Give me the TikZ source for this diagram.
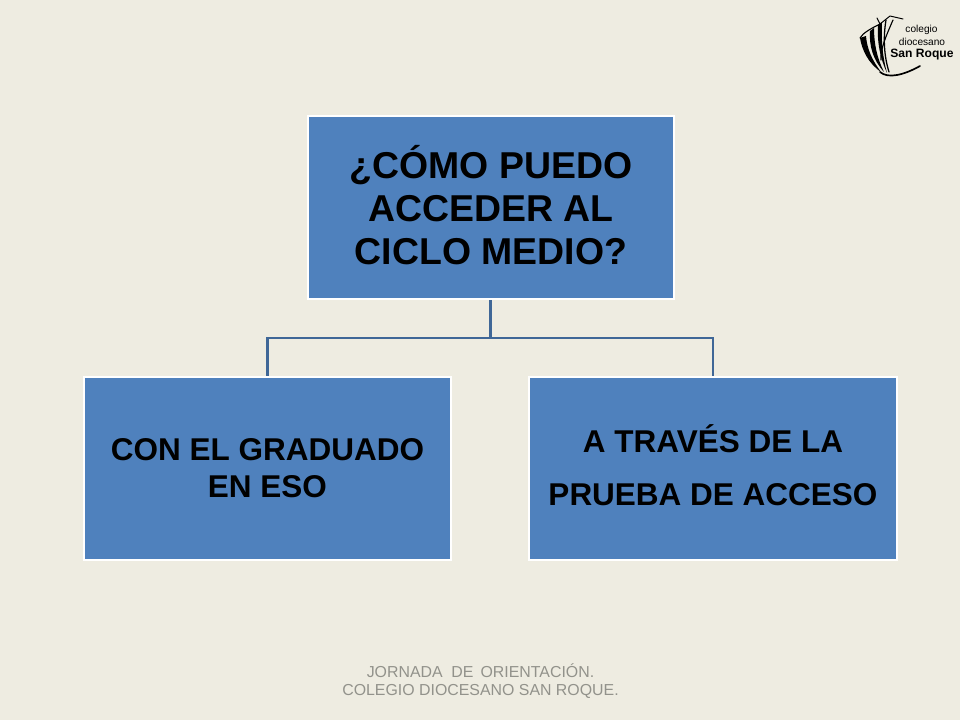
\documentclass[tikz,border=0pt]{standalone}
\usepackage{fontspec}
\setmainfont{Liberation Sans}
\usepackage{tikz}
\usetikzlibrary{positioning}
\definecolor{slidebg}{HTML}{EEECE1}
\definecolor{boxblue}{HTML}{4F81BD}
\definecolor{linkblue}{HTML}{3F6797}
\definecolor{footgray}{HTML}{92928B}
\tikzset{
  qbox/.style={ draw=white, line width=2.1pt, fill=boxblue, inner sep=0pt, minimum height=183*0.025cm }
}
\tikzset{
  qtext/.style={ align=center, inner sep=0pt }
}
\tikzset{
  link/.style={ draw=linkblue, line width=2.1pt }
}
\tikzset{
  shell/.style={ draw=black, line cap=round, line join=round }
}
\begin{document}
\begin{tikzpicture}[y=-0.025cm, x=0.025cm]
      \useasboundingbox (0, 0) rectangle (960, 720);
      \fill[slidebg] (0, 0) rectangle (960, 720);
      \node[qbox, minimum width=366*0.025cm] (top) at (491, 207.5) {};
      \node[qbox, minimum width=367*0.025cm] (grad) at (267.5, 468.5) {};
      \node[qbox, minimum width=368*0.025cm] (prueba) at (713, 468.5) {};
      \node[qtext, font=\bfseries\fontsize{26.6}{30.6}\selectfont] (toptext) at (491, 205) {¿CÓMO PUEDO\\ACCEDER AL\\CICLO MEDIO?};
      \node[qtext, font=\bfseries\fontsize{22.4}{26.2}\selectfont] (gradtext) at (267.5, 468) {CON EL GRADUADO\\EN ESO};
      \node[qtext, font=\bfseries\fontsize{22.4}{37.5}\selectfont] (pruebatext) at (713, 465.5) {A TRAVÉS DE LA\\PRUEBA DE ACCESO};
      \coordinate (hub) at (490.5, 338);
      \draw[link] (top.south -| hub) -- (hub);
      \draw[link] (grad.north) |- (hub) -| (prueba.north);
      \node[text=footgray, align=center, font=\fontsize{11.3}{12.6}\selectfont] (foot) at (480.5, 681) {JORNADA\hspace{3pt} DE\hspace{2pt} ORIENTACIÓN.\\COLEGIO DIOCESANO SAN ROQUE.};
      % logo
      \draw[shell, line width=0.7pt] (877, 18) -- (880, 24) -- (890, 16) -- (903, 19);
      \draw[shell, line width=0.8pt] (880, 24) .. controls (870, 29) and (863, 33) .. (860, 38);
      \fill (860, 38) .. controls (862, 50) and (868, 63) .. (881, 72) .. controls (872, 60) and (867, 49) .. (866, 36) -- cycle;
      \fill (870, 31) .. controls (869, 46) and (873, 60) .. (884, 72) .. controls (877, 58) and (874, 44) .. (874, 28) -- cycle;
      \fill (878, 25) .. controls (877, 42) and (880, 58) .. (887, 73) .. controls (883, 58) and (881, 42) .. (882, 22) -- cycle;
      \draw[shell, line width=0.9pt] (886, 20) .. controls (883, 38) and (884, 56) .. (889, 72);
      \draw[shell, line width=0.8pt] (893, 20) .. controls (886, 36) and (880, 50) .. (881, 60);
      \draw[shell, line width=1.2pt] (880, 72) .. controls (888, 79) and (904, 75) .. (920, 66);
      \node[font=\fontsize{7.2}{8}\selectfont, inner sep=0pt] (colegio) at (921.5, 30) {colegio};
      \node[font=\fontsize{7.2}{8}\selectfont, inner sep=0pt] (diocesano) at (922, 41.5) {diocesano};
      \node[font=\fontsize{8.6}{9}\selectfont, inner sep=0pt] (roque) at (922, 54.5) {\bfseries San Roque};
    \end{tikzpicture}
\end{document}
